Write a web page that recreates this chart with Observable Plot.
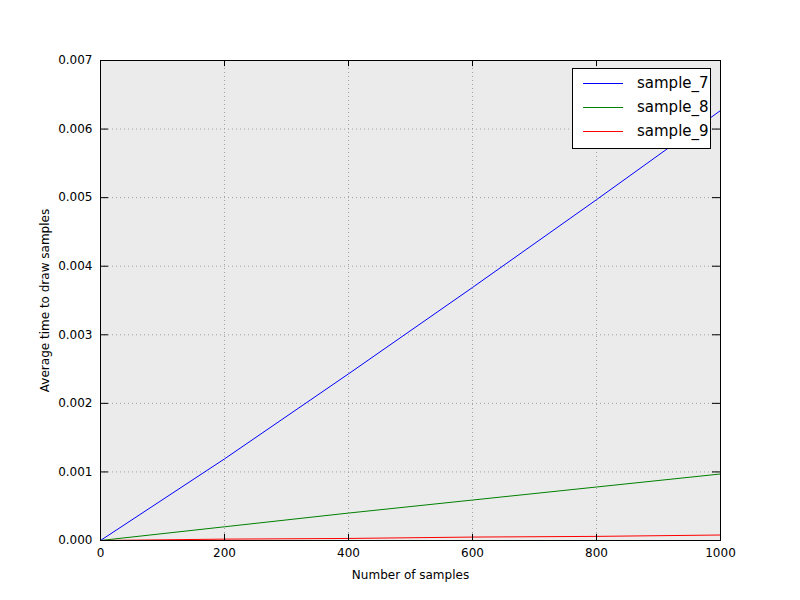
<!DOCTYPE html>
<html><head><meta charset="utf-8">
<script src="https://cdn.jsdelivr.net/npm/d3@7"></script>
<script src="https://cdn.jsdelivr.net/npm/@observablehq/plot@0.6"></script>
<style>
body{margin:0;background:#fff;font-family:"DejaVu Sans",sans-serif;}
#wrap{position:relative;width:800px;height:600px;}
#legend{position:absolute;left:572px;top:68px;width:137px;height:79px;border:1px solid #000;background:#fff;font-size:15px;}
.row{position:absolute;left:10px;height:20px;display:flex;align-items:center;}
.sw{display:inline-block;width:40px;height:1px;margin-right:14px;}
</style></head><body>
<div id="wrap"></div>
<script>
const xs = [0, 200, 400, 600, 800, 1000];
const sample_7 = [0, 0.00119, 0.00243, 0.00369, 0.00497, 0.00627];
const sample_8 = [0, 0.00020, 0.00040, 0.00059, 0.00078, 0.00097];
const sample_9 = [0, 0.00002, 0.00003, 0.00005, 0.00006, 0.00008];
const names = ["sample_7", "sample_8", "sample_9"];
const colors = ["#0000ff", "#008000", "#ff0000"];
const series = [sample_7, sample_8, sample_9];
const yTicks = [0, 0.001, 0.002, 0.003, 0.004, 0.005, 0.006, 0.007];
const xTicks = [0, 200, 400, 600, 800, 1000];

const data = series.flatMap((s, i) => s.map((v, j) => ({x: xs[j], y: v, name: names[i]})));

const chart = Plot.plot({
  width: 800, height: 600,
  marginLeft: 100, marginRight: 80, marginTop: 60, marginBottom: 60,
  style: {fontFamily: "DejaVu Sans, sans-serif", fontSize: "12px", color: "#000"},
  x: {domain: [0, 1000], type: "linear"},
  y: {domain: [0, 0.007], type: "linear"},
  color: {domain: names, range: colors},
  marks: [
    Plot.frame({fill: "#ebebeb"}),
    Plot.gridX(xTicks, {stroke: "#a0a0a0", strokeOpacity: 1, strokeDasharray: "1,3"}),
    Plot.gridY(yTicks, {stroke: "#a0a0a0", strokeOpacity: 1, strokeDasharray: "1,3"}),
    Plot.line(data, {x: "x", y: "y", z: "name", stroke: "name", strokeWidth: 1}),
    Plot.ruleX(xTicks, {x: d => d, y1: 0, y2: 0.00009, stroke: "#000"}),
    Plot.ruleX(xTicks, {x: d => d, y1: 0.00691, y2: 0.007, stroke: "#000"}),
    Plot.ruleY(yTicks, {y: d => d, x1: 0, x2: 13, stroke: "#000"}),
    Plot.ruleY(yTicks, {y: d => d, x1: 987, x2: 1000, stroke: "#000"}),
    Plot.frame({stroke: "#000"}),
    Plot.axisX({ticks: xTicks, tickSize: 0, tickPadding: 8, tickFormat: d3.format("d"), label: "Number of samples", labelAnchor: "center", labelArrow: "none", labelOffset: 38}),
    Plot.axisY({ticks: yTicks, tickSize: 0, tickPadding: 8, tickFormat: d3.format(".3f"), label: "Average time to draw samples", labelAnchor: "center", labelArrow: "none", labelOffset: 60})
  ]
});
document.getElementById("wrap").appendChild(chart);
const lg = document.createElement("div");
lg.id = "legend";
names.forEach((n, i) => {
  const r = document.createElement("div");
  r.className = "row";
  r.style.top = (4 + i * 24) + "px";
  r.innerHTML = `<span class="sw" style="background:${colors[i]}"></span><span>${n}</span>`;
  lg.appendChild(r);
});
document.getElementById("wrap").appendChild(lg);
</script>
</body></html>
